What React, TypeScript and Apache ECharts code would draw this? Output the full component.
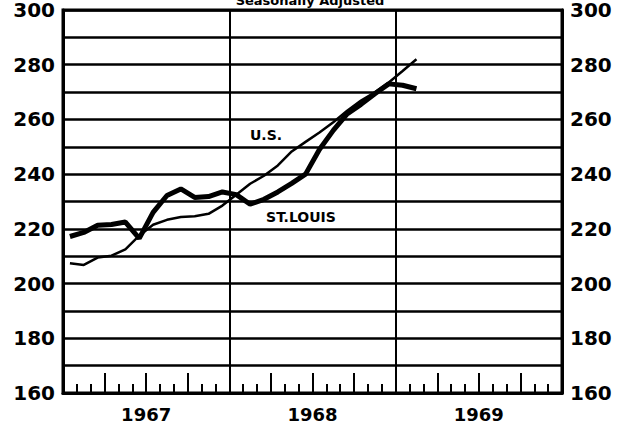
import React, { useEffect, useRef } from "react";
import * as echarts from "echarts";

// Monthly observations, Jan 1967 .. Feb 1969 (plotted at mid-month)
const months = [
  "Jan 1967", "Feb 1967", "Mar 1967", "Apr 1967", "May 1967", "Jun 1967",
  "Jul 1967", "Aug 1967", "Sep 1967", "Oct 1967", "Nov 1967", "Dec 1967",
  "Jan 1968", "Feb 1968", "Mar 1968", "Apr 1968", "May 1968", "Jun 1968",
  "Jul 1968", "Aug 1968", "Sep 1968", "Oct 1968", "Nov 1968", "Dec 1968",
  "Jan 1969", "Feb 1969",
];
const usValues = [
  207.4, 206.8, 209.5, 210.2, 212.5, 217.5, 221.5, 223.3, 224.3, 224.6, 225.5, 228.5,
  232.5, 236.5, 239.4, 243.2, 248.3, 251.8, 255.2, 259.0, 263.2, 266.9, 269.9, 273.5,
  277.7, 282.0,
];
const stlValues = [
  217.2, 218.7, 221.3, 221.6, 222.5, 216.5, 226.0, 232.2, 234.6, 231.5, 231.8, 233.5,
  232.5, 229.0, 230.8, 233.5, 236.6, 240.0, 249.0, 256.0, 262.0, 265.5, 269.4, 273.0,
  272.5, 271.2,
];
const years = ["1967", "1968", "1969"];
const yearBoundaries = [12, 24];
const yTickLabels = [160, 180, 200, 220, 240, 260, 280, 300];
const titleText = "Seasonally Adjusted";
const usLabel = "U.S.";
const stlLabel = "ST.LOUIS";

export default function App() {
  const ref = useRef<HTMLDivElement>(null);
  useEffect(() => {
    if (!ref.current) return;
    const chart = echarts.init(ref.current, null, { renderer: "svg" });
    const font = "DejaVu Sans";
    const toPoints = (vals: number[]) => vals.map((v, i) => [i + 0.5, v]);
    const yAxisBase = {
      type: "value",
      min: 160,
      max: 300,
      interval: 10,
      splitLine: { show: true, lineStyle: { color: "#000", width: 2.5 } },
      axisLine: { show: true, lineStyle: { color: "#000", width: 3 } },
      axisTick: { show: false },
      axisLabel: {
        color: "#000",
        fontFamily: font,
        fontWeight: "bold",
        fontSize: 20,
        margin: 8,
        formatter: (v: number) => (yTickLabels.includes(v) ? String(v) : ""),
      },
    };
    chart.setOption({
      animation: false,
      backgroundColor: "#fff",
      grid: {
        left: 63,
        right: 66,
        top: 9,
        bottom: 41,
        show: true,
        borderColor: "#000",
        borderWidth: 3,
      },
      xAxis: {
        type: "value",
        min: 0,
        max: 36,
        interval: 3,
        axisLine: { show: true, lineStyle: { color: "#000", width: 3 } },
        axisTick: { show: true, inside: true, length: 20, lineStyle: { color: "#000", width: 2 } },
        minorTick: { show: true, splitNumber: 3, length: 9, lineStyle: { color: "#000", width: 2 } },
        splitLine: { show: false },
        axisLabel: {
          color: "#000",
          fontFamily: font,
          fontWeight: "bold",
          fontSize: 18,
          margin: 12,
          showMinLabel: true,
          showMaxLabel: true,
          formatter: (v: number) => (v % 12 === 6 ? years[(v - 6) / 12] : ""),
        },
      },
      yAxis: [
        { ...yAxisBase, position: "left" },
        { ...yAxisBase, position: "right", splitLine: { show: false } },
      ],
      series: [
        {
          name: "U.S.",
          type: "line",
          data: toPoints(usValues),
          symbol: "none",
          lineStyle: { color: "#000", width: 2.5 },
          markLine: {
            silent: true,
            symbol: ["none", "none"],
            label: { show: false },
            lineStyle: { color: "#000", width: 2, type: "solid" },
            data: yearBoundaries.map((x) => ({ xAxis: x })),
          },
          z: 3,
        },
        {
          name: "St. Louis",
          type: "line",
          data: toPoints(stlValues),
          symbol: "none",
          lineStyle: { color: "#000", width: 5 },
          z: 4,
        },
      ],
      graphic: [
        {
          type: "text",
          x: 310,
          y: 7,
          style: {
            text: titleText,
            font: `bold 13px "${font}"`,
            fill: "#000",
            align: "center",
            verticalAlign: "bottom",
          },
        },
        {
          type: "text",
          x: 266,
          y: 135,
          style: {
            text: usLabel,
            font: `bold 14px "${font}"`,
            fill: "#000",
            align: "center",
            verticalAlign: "middle",
          },
        },
        {
          type: "text",
          x: 301,
          y: 217,
          style: {
            text: stlLabel,
            font: `bold 14px "${font}"`,
            fill: "#000",
            align: "center",
            verticalAlign: "middle",
          },
        },
      ],
    });
    return () => chart.dispose();
  }, []);
  return (
    <div
      ref={ref}
      style={{ position: "fixed", left: 0, top: 0, width: 628, height: 434 }}
      data-months={months.length}
    />
  );
}
